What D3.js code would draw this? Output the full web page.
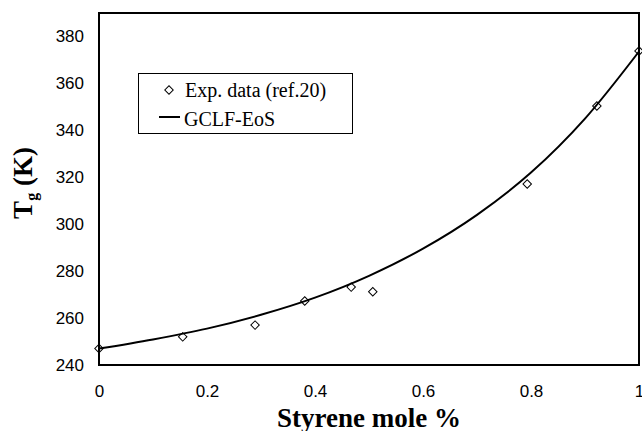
<!DOCTYPE html>
<html>
<head>
<meta charset="utf-8">
<script src="https://cdn.jsdelivr.net/npm/d3@7"></script>
<style>
  body { margin: 0; background: #fff; }
</style>
</head>
<body>
<div class="canvas"></div>
<script>
// experimental points (ref.20)
const expX = [0, 0.155, 0.289, 0.381, 0.467, 0.507, 0.793, 0.922, 1.0];
const expT = [247, 252, 257, 267.3, 273.2, 271.2, 317.1, 350.4, 373.8];

// GCLF-EoS curve
const fitX = [0, 0.1, 0.2, 0.3, 0.4, 0.5, 0.6, 0.7, 0.8, 0.9, 1.0];
const fitT = [247, 250.9, 255.5, 261.4, 268.7, 278, 289.6, 304, 322, 345, 373.6];

const xTicks = [0, 0.2, 0.4, 0.6, 0.8, 1];
const yTicks = [240, 260, 280, 300, 320, 340, 360, 380];

const margin = { top: 13, right: 3, bottom: 66, left: 99 };
const graphWidth = 642 - margin.left - margin.right;
const graphHeight = 431 - margin.top - margin.bottom;

const svg = d3.select('.canvas')
  .append('svg')
  .attr('width', 642)
  .attr('height', 431);

const graph = svg.append('g')
  .attr('transform', `translate(${margin.left}, ${margin.top})`);

const x = d3.scaleLinear()
  .domain([0, 1])
  .range([0, graphWidth]);

const y = d3.scaleLinear()
  .domain([240, 390])
  .range([graphHeight, 0]);

// axes (labels only, no tick marks)
const xAxis = d3.axisBottom(x)
  .tickValues(xTicks)
  .tickSize(0)
  .tickPadding(20)
  .tickFormat(d => d);
const yAxis = d3.axisLeft(y)
  .tickValues(yTicks)
  .tickSize(0)
  .tickPadding(15);

const xAxisGroup = graph.append('g')
  .attr('transform', `translate(0, ${graphHeight})`)
  .call(xAxis);
const yAxisGroup = graph.append('g').call(yAxis);

[xAxisGroup, yAxisGroup].forEach(g => {
  g.select('.domain').remove();
  g.selectAll('text')
    .attr('font-family', 'Liberation Sans, Arial, sans-serif')
    .attr('font-size', 17)
    .attr('fill', '#000');
});

// frame
graph.append('rect')
  .attr('x', 0)
  .attr('y', 0)
  .attr('width', graphWidth)
  .attr('height', graphHeight)
  .attr('fill', 'none')
  .attr('stroke', '#000')
  .attr('stroke-width', 2);

// model curve
const line = d3.line()
  .x((d, i) => x(fitX[i]))
  .y(d => y(d))
  .curve(d3.curveMonotoneX);

graph.append('path')
  .datum(fitT)
  .attr('d', line)
  .attr('fill', 'none')
  .attr('stroke', '#000')
  .attr('stroke-width', 2);

// diamonds
const diamond = d3.symbol().type(d3.symbolSquare).size(36);

graph.selectAll('.pt')
  .data(expT)
  .enter()
  .append('path')
    .attr('class', 'pt')
    .attr('d', diamond)
    .attr('transform', (d, i) => `translate(${x(expX[i])}, ${y(d)}) rotate(45)`)
    .attr('fill', 'none')
    .attr('stroke', '#000')
    .attr('stroke-width', 1);

// legend
const legend = svg.append('g');
legend.append('rect')
  .attr('x', 138.5)
  .attr('y', 73.5)
  .attr('width', 214)
  .attr('height', 60)
  .attr('fill', '#fff')
  .attr('stroke', '#000')
  .attr('stroke-width', 1);

legend.append('path')
  .attr('d', diamond)
  .attr('transform', 'translate(169, 90) rotate(45)')
  .attr('fill', 'none')
  .attr('stroke', '#000');

legend.append('line')
  .attr('x1', 159)
  .attr('x2', 180)
  .attr('y1', 117)
  .attr('y2', 117)
  .attr('stroke', '#000')
  .attr('stroke-width', 2);

legend.selectAll('text')
  .data(['Exp. data (ref.20)', 'GCLF-EoS'])
  .enter()
  .append('text')
    .text(d => d)
    .attr('x', (d, i) => i ? 184 : 185)
    .attr('y', (d, i) => i ? 126 : 97)
    .attr('font-family', 'Liberation Serif, Times New Roman, serif')
    .attr('font-size', 20)
    .attr('fill', '#000');

// axis titles
svg.append('text')
  .text('Styrene mole %')
  .attr('x', margin.left + graphWidth / 2)
  .attr('y', 427)
  .attr('text-anchor', 'middle')
  .attr('font-family', 'Liberation Serif, Times New Roman, serif')
  .attr('font-weight', 'bold')
  .attr('font-size', 27)
  .attr('fill', '#000');

const yTitle = svg.append('text')
  .attr('transform', 'translate(32, 183) rotate(-90)')
  .attr('text-anchor', 'middle')
  .attr('font-family', 'Liberation Serif, Times New Roman, serif')
  .attr('font-weight', 'bold')
  .attr('font-size', 27)
  .attr('fill', '#000');
yTitle.append('tspan').text('T');
yTitle.append('tspan').text('g').attr('font-size', 16).attr('dy', 5);
yTitle.append('tspan').text(' (K)').attr('dy', -5);
</script>
</body>
</html>
